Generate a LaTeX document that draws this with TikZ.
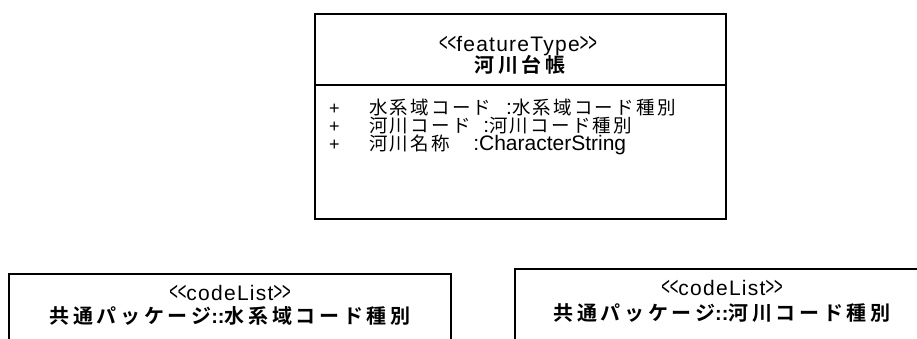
\documentclass[tikz,border=0pt]{standalone}
\usepackage{fontspec}
\usepackage{graphicx}
\setmainfont{Liberation Sans}
\newfontfamily\stfont[LetterSpace=6]{Liberation Sans}
\newfontfamily\cjk[LetterSpace=12]{Noto Sans CJK JP}
\newfontfamily\cjkb[LetterSpace=18.5,UprightFont={* Bold}]{Noto Sans CJK JP}
\newcommand\stL{\scalebox{0.7}[1.25]{<}\scalebox{0.7}[1.25]{<}}
\newcommand\stR{\scalebox{0.7}[1.25]{>}\scalebox{0.7}[1.25]{>}}
\newcommand\jp[1]{{\cjk\fontsize{18.5}{18.5}\selectfont #1}}
\newcommand\tcolon{{\normalfont\bfseries ::}}
\begin{document}
\begin{tikzpicture}[x=1pt,y=-1pt,
  box/.style={draw=black,line width=2pt},
  stereo/.style={inner sep=0pt,anchor=base,font=\fontsize{21}{21}\selectfont\stfont},
  ttl/.style={inner sep=0pt,anchor=base,font=\fontsize{20}{20}\selectfont\cjkb},
  plus/.style={inner sep=0pt,anchor=base west,text height=12pt,text depth=3pt,
    font=\fontsize{18}{18}\selectfont},
  attr/.style={inner sep=0pt,anchor=base west,text height=14pt,text depth=3pt,
    font=\fontsize{21}{21}\selectfont}]
\useasboundingbox (0,0) rectangle (917,338);
\clip (0,0) rectangle (917,338);
% feature type box
\draw[box] (315,14) rectangle (726,219);
\draw[box] (315,85) -- (726,85);
\node[stereo] (ftst) at (518,51) {\stL featureType\stR};
\node[ttl] (fttl) at (520,72) {河川台帳};
\node[plus] (p1) at (329,114) {+};
\node[plus] (p2) at (329,132) {+};
\node[plus] (p3) at (329,150) {+};
\node[attr] (a1) at (369,114) {\jp{水系域コード}\hspace{14.9pt}:\jp{水系域コード種別}};
\node[attr] (a2) at (369,132) {\jp{河川コード}\hspace{12.7pt}:\jp{河川コード種別}};
\node[attr] (a3) at (369,150) {\jp{河川名称}\hspace{23.4pt}:CharacterString};
% code list boxes
\draw[box] (9,274) rectangle (451,360);
\node[stereo] (c1st) at (230,300) {\stL codeList\stR};
\node[ttl] (c1tl) at (230,323) {共通パッケージ\tcolon 水系域コード種別};
\draw[box] (515,269) rectangle (930,360);
\node[stereo] (c2st) at (722,295) {\stL codeList\stR};
\node[ttl] (c2tl) at (722,320) {共通パッケージ\tcolon 河川コード種別};
\end{tikzpicture}
\end{document}
